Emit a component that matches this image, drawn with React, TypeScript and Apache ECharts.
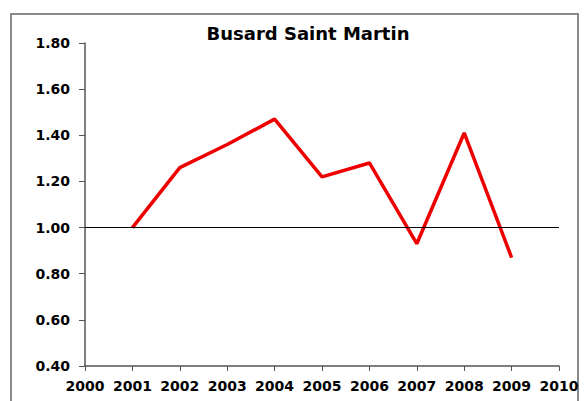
import React, { useEffect, useRef } from "react";
import * as echarts from "echarts";

const years = [2001, 2002, 2003, 2004, 2005, 2006, 2007, 2008, 2009];
const values = [1.0, 1.26, 1.36, 1.47, 1.22, 1.28, 0.93, 1.41, 0.87];
const title = "Busard Saint Martin";
const referenceValue = 1.0;

export default function App() {
  const ref = useRef<HTMLDivElement>(null);
  useEffect(() => {
    if (!ref.current) return;
    const chart = echarts.init(ref.current, undefined, { renderer: "svg" });
    const font = "'DejaVu Sans', sans-serif";
    chart.setOption({
      animation: false,
      backgroundColor: "#ffffff",
      title: {
        text: title,
        left: 308,
        top: 23,
        padding: 0,
        textAlign: "center",
        textStyle: { fontFamily: font, fontWeight: "bold", fontSize: 18, lineHeight: 20, color: "#000" },
      },
      graphic: [
        {
          type: "rect",
          shape: { x: 11, y: 14, width: 567, height: 400 },
          style: { fill: "none", stroke: "#8a8a8a", lineWidth: 2 },
          silent: true,
        },
      ],
      grid: { left: 85, right: 28, top: 43, bottom: 35 },
      xAxis: {
        type: "value",
        min: 2000,
        max: 2010,
        interval: 1,
        axisLine: { show: true, lineStyle: { color: "#555", width: 1.5 } },
        axisTick: { show: true, length: 5, lineStyle: { color: "#555" } },
        splitLine: { show: false },
        axisLabel: {
          formatter: (v: number) => String(v),
          fontFamily: font,
          fontWeight: "bold",
          fontSize: 14,
          color: "#000",
          margin: 13,
        },
      },
      yAxis: {
        type: "value",
        min: 0.4,
        max: 1.8,
        interval: 0.2,
        axisLine: { show: true, lineStyle: { color: "#555", width: 1.5 } },
        axisTick: { show: true, length: 6, lineStyle: { color: "#555" } },
        splitLine: { show: false },
        axisLabel: {
          formatter: (v: number) => v.toFixed(2),
          fontFamily: font,
          fontWeight: "bold",
          fontSize: 14,
          color: "#000",
          margin: 15,
        },
      },
      series: [
        {
          type: "line",
          data: years.map((y, i) => [y, values[i]]),
          showSymbol: false,
          lineStyle: { color: "#ee0000", width: 3.5 },
          markLine: {
            silent: true,
            symbol: "none",
            label: { show: false },
            lineStyle: { color: "#000", width: 1, type: "solid" },
            data: [{ yAxis: referenceValue }],
          },
          z: 3,
        },
      ],
    });
    return () => chart.dispose();
  }, []);
  return (
    <div
      ref={ref}
      style={{ position: "fixed", left: 0, top: 0, width: 587, height: 401 }}
    />
  );
}
